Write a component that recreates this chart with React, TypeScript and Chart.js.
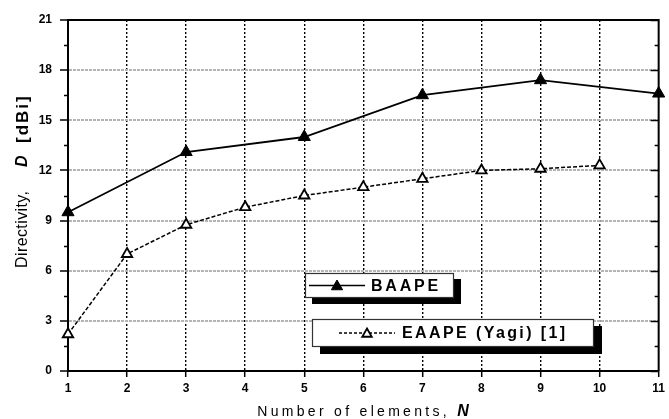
import { useEffect, useRef } from 'react';
import { Chart, registerables } from 'chart.js';

Chart.register(...registerables);

// ---- data ----
const baapeN = [1, 3, 5, 7, 9, 11];
const baapeD = [9.5, 13.1, 14.0, 16.5, 17.4, 16.6];
const eaapeN = [1, 2, 3, 4, 5, 6, 7, 8, 9, 10];
const eaapeD = [2.2, 7.0, 8.75, 9.8, 10.5, 11.0, 11.5, 12.0, 12.1, 12.3];
const seriesNames = ['BAAPE', 'EAAPE (Yagi) [1]'];
const xRange = [1, 11];
const yRange = [0, 21];
const yStep = 3;
const yMinorStep = 1.5;
const xTitleParts = ['Number of elements, ', 'N'];
const yTitleParts = ['Directivity,', 'D', '[dBi]'];

const FONT = '"Liberation Sans", Arial, Helvetica, sans-serif';

function triangle(ctx: CanvasRenderingContext2D, x: number, y: number, r: number, filled: boolean) {
  ctx.beginPath();
  for (let i = 0; i < 3; i++) {
    const a = (i * 2 * Math.PI) / 3;
    const px = x + Math.sin(a) * r;
    const py = y - Math.cos(a) * r;
    if (i === 0) ctx.moveTo(px, py);
    else ctx.lineTo(px, py);
  }
  ctx.closePath();
  ctx.fillStyle = filled ? '#000' : '#fff';
  ctx.fill();
  ctx.lineWidth = filled ? 1 : 1.8;
  ctx.strokeStyle = '#000';
  ctx.stroke();
}

function drawSegments(
  ctx: CanvasRenderingContext2D,
  parts: { text: string; font: string; spacing: number }[],
  cx: number,
  cy: number
) {
  let total = 0;
  const widths: number[] = [];
  for (const p of parts) {
    ctx.font = p.font;
    (ctx as any).letterSpacing = p.spacing + 'px';
    const w = ctx.measureText(p.text).width;
    widths.push(w);
    total += w;
  }
  let x = cx - total / 2;
  ctx.textBaseline = 'middle';
  ctx.textAlign = 'left';
  parts.forEach((p, i) => {
    ctx.font = p.font;
    (ctx as any).letterSpacing = p.spacing + 'px';
    ctx.fillText(p.text, x, cy);
    x += widths[i];
  });
  (ctx as any).letterSpacing = '0px';
}

const extrasPlugin = {
  id: 'extras',
  afterDraw(chart: any) {
    const ctx: CanvasRenderingContext2D = chart.ctx;
    const { left, right, top, bottom } = chart.chartArea;
    const ys = chart.scales.y;
    ctx.save();
    ctx.strokeStyle = '#000';
    // top and right frame
    ctx.lineWidth = 2;
    ctx.beginPath();
    ctx.moveTo(left, top);
    ctx.lineTo(right, top);
    ctx.moveTo(right, top - 1);
    ctx.lineTo(right, bottom);
    ctx.stroke();
    // y minor ticks + right ticks
    ctx.lineWidth = 1.5;
    for (let v = yRange[0]; v <= yRange[1] + 1e-9; v += yMinorStep) {
      const py = Math.round(ys.getPixelForValue(v)) + 0.5;
      const major = Math.abs(v / yStep - Math.round(v / yStep)) < 1e-6;
      ctx.beginPath();
      if (!major) {
        ctx.moveTo(left - 4, py);
        ctx.lineTo(left, py);
      }
      ctx.moveTo(right, py);
      ctx.lineTo(right - (major ? 8 : 4), py);
      ctx.stroke();
    }

    // legend boxes
    const boxes = [
      { x: 305, y: 273, w: 149, h: 25, sx: 7, sy: 6, lx1: 309, lx2: 365, mx: 337, tx: 371, filled: true, dash: [] as number[], sp: 2.8 },
      { x: 312, y: 319, w: 282, h: 28, sx: 8, sy: 7, lx1: 339, lx2: 395, mx: 367, tx: 402, filled: false, dash: [3, 2], sp: 2.4 },
    ];
    boxes.forEach((b, i) => {
      ctx.fillStyle = '#000';
      ctx.fillRect(b.x + b.sx, b.y + b.sy, b.w, b.h);
      ctx.fillStyle = '#fff';
      ctx.fillRect(b.x, b.y, b.w, b.h);
      ctx.lineWidth = 1.2;
      ctx.strokeStyle = '#333';
      ctx.strokeRect(b.x + 0.5, b.y + 0.5, b.w - 1, b.h - 1);
      const cy = b.y + b.h / 2;
      ctx.strokeStyle = '#000';
      ctx.lineWidth = b.filled ? 1.5 : 1.3;
      ctx.setLineDash(b.dash);
      ctx.beginPath();
      ctx.moveTo(b.lx1, cy);
      ctx.lineTo(b.lx2, cy);
      ctx.stroke();
      ctx.setLineDash([]);
      triangle(ctx, b.mx, cy + 1, b.filled ? 6.5 : 5.5, b.filled);
      ctx.fillStyle = '#000';
      ctx.font = `bold 16px ${FONT}`;
      (ctx as any).letterSpacing = b.sp + 'px';
      ctx.textAlign = 'left';
      ctx.textBaseline = 'middle';
      ctx.fillText(seriesNames[i], b.tx, cy + 1);
      (ctx as any).letterSpacing = '0px';
    });

    // x axis title
    ctx.fillStyle = '#000';
    drawSegments(
      ctx,
      [
        { text: xTitleParts[0], font: `14px ${FONT}`, spacing: 3.3 },
        { text: xTitleParts[1], font: `italic bold 16px ${FONT}`, spacing: 0 },
      ],
      363,
      412
    );
    // y axis title (rotated), laid out from the bottom up
    ctx.save();
    ctx.translate(23, 268);
    ctx.rotate(-Math.PI / 2);
    ctx.textBaseline = 'middle';
    ctx.textAlign = 'left';
    ctx.font = `16px ${FONT}`;
    (ctx as any).letterSpacing = '0.4px';
    ctx.fillText(yTitleParts[0], 0, 0);
    (ctx as any).letterSpacing = '0px';
    ctx.font = `italic bold 16px ${FONT}`;
    ctx.fillText(yTitleParts[1], 101, 0);
    ctx.font = `bold 17px ${FONT}`;
    (ctx as any).letterSpacing = '2px';
    ctx.fillText(yTitleParts[2], 125, 0);
    (ctx as any).letterSpacing = '0px';
    ctx.restore();
    ctx.restore();
  },
};

export default function App() {
  const ref = useRef<HTMLCanvasElement | null>(null);
  useEffect(() => {
    if (!ref.current) return;
    const chart = new Chart(ref.current, {
      type: 'line',
      data: {
        datasets: [
          {
            label: seriesNames[0],
            data: baapeN.map((n, i) => ({ x: n, y: baapeD[i] })),
            borderColor: '#000',
            backgroundColor: '#000',
            borderWidth: 1.8,
            pointStyle: 'triangle',
            pointRadius: 7,
            pointBorderWidth: 1,
            pointBackgroundColor: '#000',
            pointBorderColor: '#000',
            clip: false,
            tension: 0,
          },
          {
            label: seriesNames[1],
            data: eaapeN.map((n, i) => ({ x: n, y: eaapeD[i] })),
            borderColor: '#000',
            backgroundColor: '#fff',
            borderWidth: 1.5,
            borderDash: [4, 2],
            pointStyle: 'triangle',
            pointRadius: 6,
            pointBorderWidth: 1.8,
            pointBackgroundColor: '#fff',
            pointBorderColor: '#000',
            clip: false,
            tension: 0,
          },
        ],
      },
      options: {
        animation: false,
        responsive: false,
        devicePixelRatio: 1,
        layout: { padding: { left: 0, right: 9, top: 20, bottom: 0 } },
        plugins: { legend: { display: false }, tooltip: { enabled: false } },
        scales: {
          x: {
            type: 'linear',
            min: xRange[0],
            max: xRange[1],
            afterFit: (s: any) => {
              s.height = 48;
            },
            ticks: {
              stepSize: 1,
              color: '#000',
              font: { family: FONT, size: 12, weight: 'bold' },
              padding: 4,
            },
            grid: {
              color: (c: any) =>
                c.tick && (c.tick.value === xRange[0] || c.tick.value === xRange[1]) ? 'rgba(0,0,0,0)' : '#000',
              lineWidth: 1.4,
              tickColor: '#000',
              tickLength: 6,
              tickWidth: 1.5,
              tickBorderDash: [],
            },
            border: { display: true, color: '#000', width: 2, dash: [2, 2] },
          },
          y: {
            type: 'linear',
            min: yRange[0],
            max: yRange[1],
            afterFit: (s: any) => {
              s.width = 68;
            },
            ticks: {
              stepSize: yStep,
              color: '#000',
              font: { family: FONT, size: 12, weight: 'bold' },
              padding: 8,
            },
            grid: {
              color: (c: any) =>
                c.tick && (c.tick.value === yRange[0] || c.tick.value === yRange[1]) ? 'rgba(0,0,0,0)' : '#b4b4b4',
              lineWidth: 2,
              tickColor: '#000',
              tickLength: 8,
              tickWidth: 1.5,
              tickBorderDash: [],
            },
            border: { display: true, color: '#000', width: 2, dash: [3, 1] },
          },
        },
      },
      plugins: [extrasPlugin],
    });
    return () => chart.destroy();
  }, []);
  return (
    <div style={{ position: 'fixed', left: 0, top: 0, width: 669, height: 419, background: '#fff' }}>
      <canvas ref={ref} width={669} height={419} style={{ display: 'block' }} />
    </div>
  );
}
